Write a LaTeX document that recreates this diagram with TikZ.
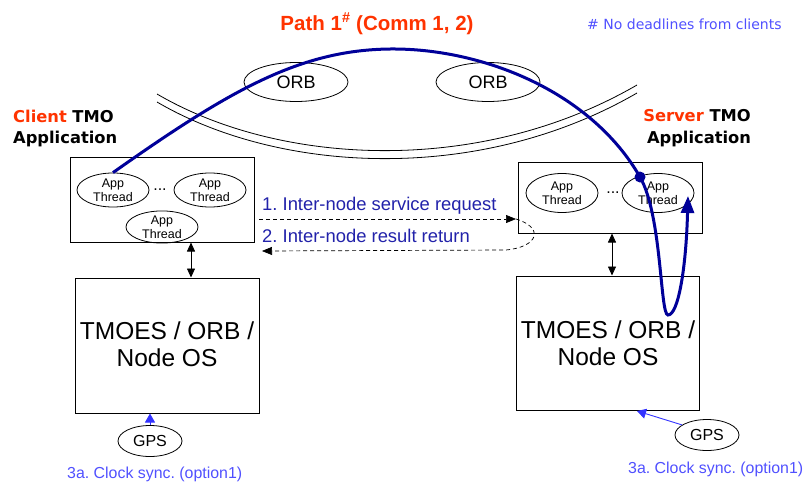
\documentclass[tikz,border=0pt]{standalone}
\usepackage{fontspec}
\setmainfont{Liberation Sans}
\newfontfamily\wide{DejaVu Sans}
\usetikzlibrary{arrows.meta,shapes.geometric}
\definecolor{hot}{RGB}{255,51,0}
\definecolor{navy}{RGB}{0,0,153}
\definecolor{msgblue}{RGB}{34,34,170}
\definecolor{softblue}{RGB}{80,80,255}
\definecolor{gpsblue}{RGB}{51,51,255}
\newcommand{\fs}[2]{\fontsize{#1}{#2}\selectfont}
\frenchspacing
\tikzset{
  box/.style={draw, line width=1pt, inner sep=0pt},
  oval/.style={draw, ellipse, line width=0.8pt, inner sep=0pt},
  thread/.style={oval, minimum width=72pt, align=center, font=\fs{12.5}{14}},
  orbnode/.style={oval, minimum width=104pt, minimum height=39pt, font=\fs{18}{20}},
  gpsnode/.style={oval, minimum width=64pt, minimum height=31pt, font=\fs{16}{18}},
  ostext/.style={align=center, font=\fs{24.5}{27}},
  plain/.style={inner sep=0pt},
  msg/.style={plain, anchor=base west, text=msgblue, font=\fs{18.4}{20}},
  clock/.style={plain, anchor=base west, text=softblue, font=\fs{15.9}{18}},
  role/.style={plain, font=\wide\bfseries\fs{16.3}{18}},
  dbl/.style={line width=0.8pt, {Triangle[length=9pt,width=8pt]}-{Triangle[length=9pt,width=8pt]}},
  msgarrow/.style={line width=0.7pt, dash pattern=on 4pt off 3pt, -{Triangle[length=10pt,width=8pt]}},
  gpsarrow/.style={gpsblue, line width=0.9pt, -{Triangle[length=9pt,width=10pt]}},
  route/.style={navy, line width=3pt, -{Triangle[length=17pt,width=13pt]}},
}
\begin{document}
\begin{tikzpicture}[x=1pt, y=-1pt]
\useasboundingbox (0,0) rectangle (806,482);

% headings
\node[plain, anchor=base, text=hot, font=\bfseries\fs{20.5}{22}] (title) at (377,30) {Path 1\textsuperscript{\#} (Comm 1, 2)};
\node[plain, anchor=base west, text=softblue, font=\wide\fs{14}{16}] (note) at (587,29) {\# No deadlines from clients};

% network backbone (double line)
\draw[line width=0.8pt] (157,94) .. controls (280,166) and (480,176) .. (637,85);
\draw[line width=0.8pt] (157,102) .. controls (280,174) and (480,184) .. (637,93);

% ORB instances on the network
\node[orbnode] (orb1) at (296,82) {ORB};
\node[orbnode] (orb2) at (488,82) {ORB};

% role labels
\node[role, anchor=base west] (cl1) at (13,122) {\textcolor{hot}{Client} TMO};
\node[role, anchor=base west] (cl2) at (13,143) {Application};
\node[role, anchor=base] (sl1) at (697,121) {\textcolor{hot}{Server} TMO};
\node[role, anchor=base] (sl2) at (699,143) {Application};

% client application box
\node[box, minimum width=184pt, minimum height=85pt] (cbox) at (162,199.5) {};
\node[thread, minimum height=34pt] (ct1) at (113,190) {App\\Thread};
\node[thread, minimum height=34pt] (ct2) at (210,190) {App\\Thread};
\node[thread, minimum height=32pt] (ct3) at (162,227) {App\\Thread};
\node[plain, font=\fs{16}{16}] (cdots) at (160,190) {...};

% server application box
\node[box, minimum width=184pt, minimum height=71pt] (sbox) at (610,197.5) {};
\node[thread, minimum height=39pt] (st1) at (562,193) {App\\Thread};
\node[thread, minimum height=39pt] (st2) at (658,193) {App\\Thread};
\node[plain, font=\fs{16}{16}] (sdots) at (613,193) {...};

% middleware / OS boxes
\node[box, minimum width=184pt, minimum height=135pt] (cos) at (167,345.5) {};
\node[ostext] (costxt) at (167,344) {TMOES / ORB /\\Node OS};
\node[box, minimum width=183pt, minimum height=134pt] (sos) at (607.5,343) {};
\node[ostext] (sostxt) at (608,343) {TMOES / ORB /\\Node OS};

% application <-> middleware
\draw[dbl] (191,0 |- cbox.south) -- (191,0 |- cos.north);
\draw[dbl] (612,0 |- sbox.south) -- (612,0 |- sos.north);

% inter-node messages
\coordinate (reqA) at (259,219);
\coordinate (reqB) at (516,219);
\coordinate (retB) at (262,251);
\node[msg] (reqtxt) at (262,210) {1. Inter-node service request};
\node[msg] (rettxt) at (262,242) {2. Inter-node result return};
\draw[msgarrow] (reqA) -- (reqB);
\draw[msgarrow] (reqB) .. controls (545,228) and (538,247) .. (506,250) -- (retB);

% GPS clock sources
\node[gpsnode] (cgps) at (150,441) {GPS};
\node[gpsnode] (sgps) at (707,435) {GPS};
\draw[gpsarrow] (cgps.north) -- (cgps.north |- cos.south);
\coordinate (sgpsin) at (637,411);
\draw[gpsarrow] (sgps.158) -- (sgpsin);
\node[clock] (csync) at (67,478) {3a. Clock sync. (option1)};
\node[clock] (ssync) at (628,473) {3a. Clock sync. (option1)};

% end-to-end path of the invocation
\node[circle, fill=navy, inner sep=0pt, minimum size=11pt] (hop) at (640,177) {};
\coordinate (pathend) at (688,196);
\draw[route] (ct1.north) .. controls (230,90) and (300,50) .. (390,49)
  .. controls (480,48) and (590,90) .. (hop.center)
  .. controls (662,215) and (660,315) .. (668,315)
  .. controls (678,315) and (686,270) .. (pathend);
\end{tikzpicture}
\end{document}
